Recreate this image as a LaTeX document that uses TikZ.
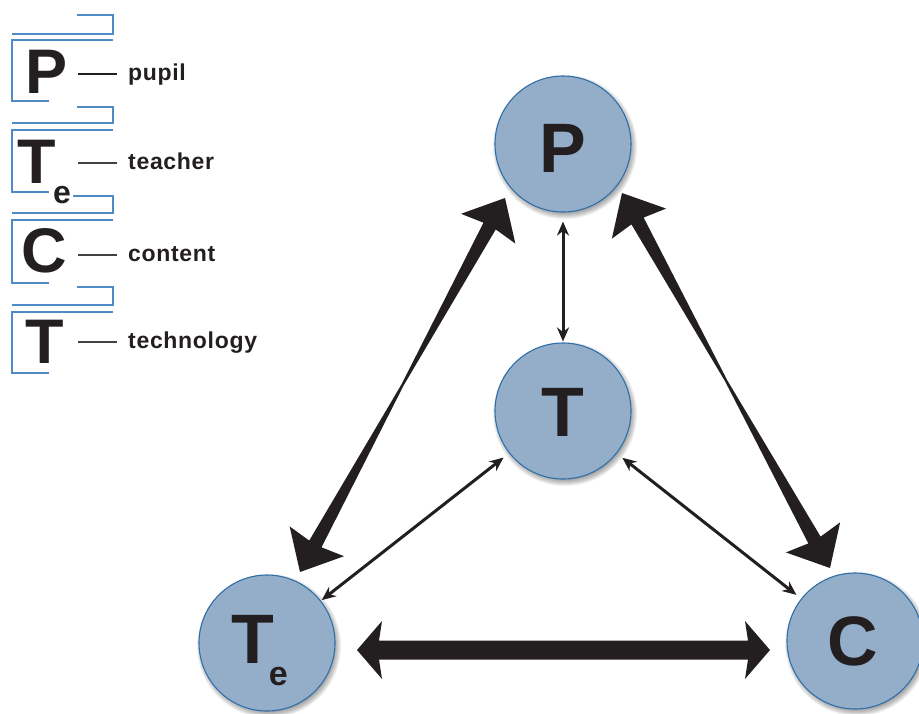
\documentclass[tikz,border=0pt]{standalone}
\usepackage{fontspec}
\setmainfont{Liberation Sans}
\newfontfamily\labfont[LetterSpace=3]{Liberation Sans}
\usetikzlibrary{calc,arrows.meta}
\definecolor{circfill}{HTML}{94AEC9}
\definecolor{circline}{HTML}{2F6FA8}
\definecolor{legblue}{HTML}{4F8CC5}
\definecolor{ink}{HTML}{231F20}
\newcommand\fatarrow[7]{%
 \coordinate (#7a) at (#1);
 \coordinate (#7b) at (#2);
 \coordinate (#7na) at ($(#7a)!#3!(#7b)$);
 \coordinate (#7ba) at ($(#7a)!#3+3pt!(#7b)$);
 \coordinate (#7nb) at ($(#7b)!#3!(#7a)$);
 \coordinate (#7bb) at ($(#7b)!#3+3pt!(#7a)$);
 \coordinate (#7m) at ($(#7a)!0.5!(#7b)$);
 \fill[fatfill] (#7a) -- ($(#7ba)!#4!90:(#7b)$) -- ($(#7na)!#5!90:(#7b)$)
   -- ($(#7m)!#6!90:(#7b)$) -- ($(#7nb)!#5!-90:(#7a)$) -- ($(#7bb)!#4!-90:(#7a)$)
   -- (#7b) -- ($(#7bb)!#4!90:(#7a)$) -- ($(#7nb)!#5!90:(#7a)$)
   -- ($(#7m)!#6!-90:(#7b)$) -- ($(#7na)!#5!-90:(#7b)$) -- ($(#7ba)!#4!-90:(#7b)$) -- cycle;
}
\newcommand\softshadow[1]{%
 \foreach \k in {0,...,6} {\fill[black,opacity=0.06] ($(#1)+(2,3)$) circle[radius=66pt+\k pt];}
}
\begin{document}
\begin{tikzpicture}[x=1pt,y=-1pt,
  circ/.style={circle,minimum size=136pt,inner sep=0pt,fill=circfill,draw=circline,line width=1.1pt},
  bigletter/.style={font=\fontsize{70}{70}\selectfont\bfseries,text=ink,inner sep=0pt,anchor=base},
  legletter/.style={font=\fontsize{63}{63}\selectfont\bfseries,text=ink,inner sep=0pt,anchor=base},
  legtext/.style={font=\fontsize{23}{23}\labfont\bfseries,text=ink,inner sep=0pt,anchor=base west},
  legline/.style={draw=legblue,line width=1.5pt},
  dashline/.style={draw=ink!85,line width=1.3pt},
  fatfill/.style={fill=ink},
  thinarrow/.style={draw=ink,line width=3pt,{Stealth[length=14pt,width=12pt]}-{Stealth[length=14pt,width=12pt]}}
]
\useasboundingbox (0,0) rectangle (919,713);

% ---------- legend ----------
\draw[legline] (77,15)--(113,15)--(113,34)--(12,34);
\draw[legline] (113,40)--(12,40)--(12,101)--(49,101);
\draw[legline] (77,107)--(113,107)--(113,123)--(12,123);
\draw[legline] (113,130)--(12,130)--(12,192)--(49,192);
\draw[legline] (73,196)--(113,196)--(113,213)--(12,213);
\draw[legline] (113,220)--(12,220)--(12,283)--(49,283);
\draw[legline] (77,287)--(113,287)--(113,305)--(12,305);
\draw[legline] (113,312)--(12,312)--(12,373)--(49,373);

\node[legletter] (lP) at (47,93) {P};
\node[legletter,anchor=base west] (lTe) at (17.5,183) {T\kern-3pt\raisebox{-20pt}{\fontsize{32}{32}\selectfont e}};
\node[legletter] (lC) at (44,272) {C};
\node[legletter] (lT) at (45,363) {T};

\draw[draw=ink,line width=1.3pt] (78,74) -- (117,74);
\draw[dashline] (78,163) -- (117,163);
\draw[dashline] (78,255) -- (117,255);
\draw[dashline] (78,342) -- (117,342);

\node[legtext] (tP) at (128,80) {pupil};
\node[legtext] (tTe) at (128,169) {teacher};
\node[legtext] (tC) at (128,261) {content};
\node[legtext] (tT) at (128,348) {technology};

% ---------- circles ----------
\coordinate (cP) at (563,144);
\coordinate (cT) at (563,411);
\coordinate (cTe) at (267,643);
\coordinate (cC) at (855,641);
\softshadow{cP}\softshadow{cT}\softshadow{cTe}\softshadow{cC}
\node[circ] (P) at (cP) {};
\node[circ] (T) at (cT) {};
\node[circ] (Te) at (cTe) {};
\node[circ] (C) at (cC) {};
\node[bigletter] (Plab) at (563,172) {P};
\node[bigletter] (Tlab) at (563,436) {T};
\node[bigletter,anchor=base west] (Telab) at (231,663) {T\kern-5pt\raisebox{-22pt}{\fontsize{34}{34}\selectfont e}};
\node[bigletter] (Clab) at (853,665) {C};

% ---------- thin arrows ----------
\draw[thinarrow,shorten <=9pt,shorten >=1pt] (P) -- (T);
\draw[thinarrow,shorten <=7pt,shorten >=1pt] (T) -- (Te);
\draw[thinarrow,shorten <=7pt,shorten >=6pt] (T) -- (C);

% ---------- thick arrows ----------
\fatarrow{$(P)+(-58,54)$}{$(Te)+(33,-71)$}{32pt}{31pt}{7pt}{1.2pt}{pte}
\fatarrow{$(P)+(59,49)$}{$(C)+(-25,-73)$}{32pt}{31pt}{7pt}{1.2pt}{pc}
\fatarrow{$(Te)+(90,7)$}{$(C)+(-85,9)$}{22pt}{29pt}{9.5pt}{9.5pt}{tc}
\end{tikzpicture}
\end{document}
